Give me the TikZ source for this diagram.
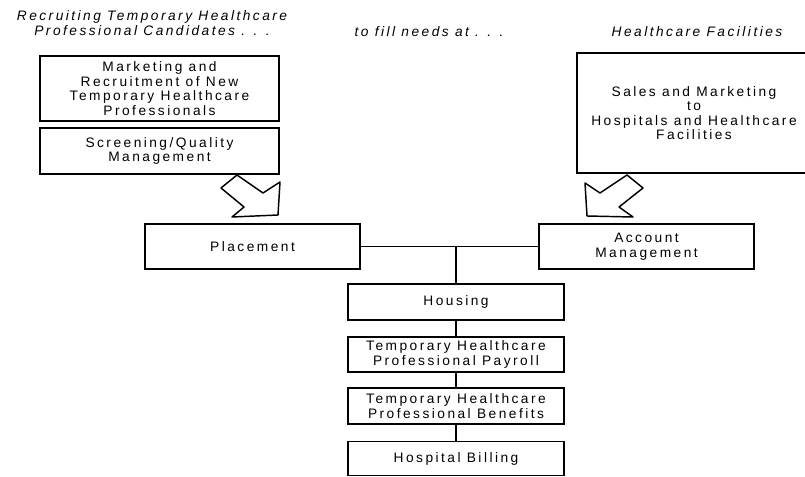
\documentclass[tikz,border=0pt]{standalone}
\usepackage{fontspec}
\setmainfont{Liberation Sans}[LetterSpace=18]
\begin{document}
\begin{tikzpicture}[x=0.75pt,y=-0.75pt,
  box/.style 2 args={draw, line width=1.1pt, minimum width=#1*0.75pt, minimum height=#2*0.75pt,
     align=center, inner sep=0pt, font=\fontsize{10.3}{10.8}\selectfont},
  head/.style={align=center, inner sep=0pt, font=\fontsize{10.3}{11.2}\selectfont\itshape},
  conn/.style={line width=1.1pt},
  bigarrow/.style={draw, line width=1.1pt, line join=round}]
\useasboundingbox (0,0) rectangle (805,477);
\clip (0,0) rectangle (805,477);
% headings
\node[head] (h1) at (152,23) {Recruiting Temporary Healthcare\\Professional Candidates . . .};
\node[head] (h2) at (429,32) {to fill needs at . . .};
\node[head] (h3) at (697,32) {Healthcare Facilities};
% boxes
\node[box={239}{65}] (mkt) at (159.5,88.5) {Marketing and\\Recruitment of New\\Temporary Healthcare\\Professionals};
\node[box={239}{46}] (scr) at (159.5,151) {Screening/Quality\\Management};
\node[box={234}{120}] (sales) at (694,113) {Sales and Marketing\\to\\Hospitals and Healthcare\\Facilities};
\node[box={215}{45}] (place) at (252.5,246.5) {Placement};
\node[box={215}{45}] (acct) at (646.5,246.5) {Account\\Management};
\node[box={216}{36}] (house) at (456,302) {Housing};
\node[box={216}{35}] (pay) at (456,354.5) {Temporary Healthcare\\Professional Payroll};
\node[box={216}{36}] (ben) at (456,406) {Temporary Healthcare\\Professional Benefits};
\node[box={216}{34}] (bill) at (456,458.5) {Hospital Billing};
% connectors
\coordinate (j) at (house.north |- place.east);
\draw[conn] (place.east) -- (acct.west);
\draw[conn] (j) -- (house.north);
\draw[conn] (house.south) -- (pay.north);
\draw[conn] (pay.south) -- (ben.north);
\draw[conn] (ben.south) -- (bill.north);
% big hollow arrows
\draw[bigarrow] (237,175) -- (221,188) -- (244,207) -- (232,217) -- (278,215) -- (280,182) -- (263,193) -- cycle;
\draw[bigarrow] (627,175) -- (643,188) -- (619,207) -- (633,217) -- (587,216) -- (585,183) -- (600,193) -- cycle;
\end{tikzpicture}
\end{document}
